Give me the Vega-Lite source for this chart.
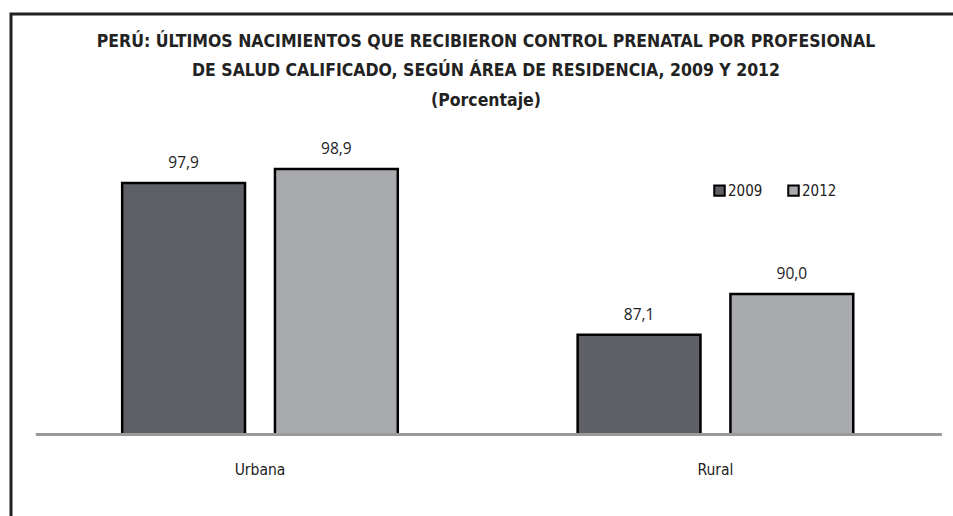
{
  "$schema": "https://vega.github.io/schema/vega-lite/v6.json",
  "autosize": "none",
  "padding": {"left": 11, "top": 14, "right": 0, "bottom": 0},
  "width": 950,
  "height": 503.5,
  "background": "#ffffff",
  "config": {
    "view": {"stroke": "#222222", "strokeWidth": 3},
    "locale": {"number": {"decimal": ",", "thousands": ".", "grouping": [3], "currency": ["", ""]}},
    "font": "DejaVu Sans Condensed, Liberation Sans"
  },
  "title": {
    "text": ["PERÚ: ÚLTIMOS NACIMIENTOS QUE RECIBIERON CONTROL PRENATAL POR PROFESIONAL", "DE SALUD CALIFICADO, SEGÚN ÁREA DE RESIDENCIA, 2009 Y 2012", "(Porcentaje)"],
    "font": "DejaVu Sans Condensed, Liberation Sans",
    "fontSize": 17.5,
    "fontWeight": "bold",
    "color": "#222222",
    "lineHeight": 29.5,
    "anchor": "middle",
    "offset": -95
  },
  "datasets": {
    "bars": [
      {"area": "Urbana", "year": "2009", "value": 97.9},
      {"area": "Urbana", "year": "2012", "value": 98.9},
      {"area": "Rural", "year": "2009", "value": 87.1},
      {"area": "Rural", "year": "2012", "value": 90.0}
    ],
    "cats": [
      {"area": "Urbana"},
      {"area": "Rural"}
    ]
  },
  "layer": [
    {
      "data": {"name": "bars"},
      "mark": {"type": "bar", "stroke": "#000000", "strokeWidth": 2.5},
      "encoding": {
        "x": {"field": "area", "type": "nominal", "axis": null,
              "scale": {"domain": ["Urbana", "Rural"], "paddingInner": 0, "paddingOuter": 0.0429, "align": 0.544}},
        "xOffset": {"field": "year", "type": "nominal",
              "scale": {"domain": ["2009", "2012"], "paddingInner": 0.196, "paddingOuter": 0.5886}},
        "y": {"field": "value", "type": "quantitative", "axis": null,
              "scale": {"domain": [74.09, 109.93], "zero": false, "nice": false}},
        "y2": {"datum": 80},
        "fill": {"field": "year", "type": "nominal",
              "scale": {"domain": ["2009", "2012"], "range": ["#5f6065", "#a9aaae"]},
              "legend": {"orient": "none", "legendX": 701, "legendY": 169, "direction": "horizontal",
                         "title": null, "symbolType": "square", "symbolSize": 110,
                         "symbolStrokeColor": "#000000", "symbolStrokeWidth": 2, "symbolOpacity": 1,
                         "labelFont": "DejaVu Sans Condensed, Liberation Sans", "labelFontSize": 15, "labelColor": "#222222",
                         "labelOffset": 1, "columnPadding": 21, "padding": 0}}
      }
    },
    {
      "data": {"name": "bars"},
      "mark": {"type": "text", "font": "Open Sans", "fontSize": 15.5, "color": "#222222", "baseline": "alphabetic", "dy": -15},
      "encoding": {
        "x": {"field": "area", "type": "nominal"},
        "xOffset": {"field": "year", "type": "nominal"},
        "y": {"field": "value", "type": "quantitative"},
        "text": {"field": "value", "type": "quantitative", "format": ".1f"}
      }
    },
    {
      "data": {"name": "cats"},
      "mark": {"type": "rule", "color": "#9a9a9a", "strokeWidth": 3},
      "encoding": {
        "x": {"datum": "Urbana", "bandPosition": 0.008},
        "x2": {"datum": "Rural", "bandPosition": 0.997},
        "y": {"datum": 80, "type": "quantitative"}
      }
    },
    {
      "data": {"name": "cats"},
      "mark": {"type": "text", "font": "DejaVu Sans Condensed, Liberation Sans", "fontSize": 15.5, "color": "#222222", "baseline": "middle"},
      "encoding": {
        "x": {"field": "area", "type": "nominal"},
        "y": {"datum": 77.47, "type": "quantitative"},
        "text": {"field": "area", "type": "nominal"}
      }
    }
  ]
}
